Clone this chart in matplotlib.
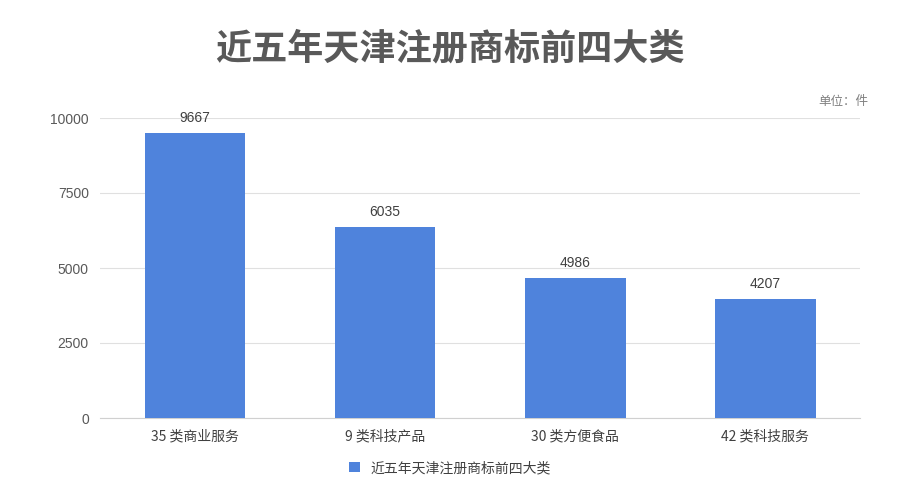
import matplotlib
matplotlib.use("Agg")
import matplotlib.pyplot as plt

plt.rcParams['font.family'] = ['Noto Sans CJK SC', 'DejaVu Sans']

categories = ["35 类商业服务", "9 类科技产品", "30 类方便食品", "42 类科技服务"]
bar_heights = [9500, 6370, 4670, 3980]
value_labels = ["9667", "6035", "4986", "4207"]
yticks = [0, 2500, 5000, 7500, 10000]

fig = plt.figure(figsize=(9, 5), dpi=100)
ax = fig.add_axes([0.111, 0.164, 0.845, 0.6])
x = range(len(categories))
bars = ax.bar(x, bar_heights, width=0.53, color="#4f83dc", label="近五年天津注册商标前四大类", zorder=3)
for b, t in zip(bars, value_labels):
    ax.text(b.get_x() + b.get_width() / 2, b.get_height() + 250, t, ha="center", va="bottom",
            fontsize=10, color="#404040", family=["Liberation Sans", "DejaVu Sans"])
ax.set_ylim(0, 10000)
ax.set_xlim(-0.5, 3.5)
ax.set_yticks(yticks)
ax.set_yticklabels([str(v) for v in yticks], fontsize=10, color="#595959", family=["Liberation Sans", "DejaVu Sans"])
ax.set_xticks(list(x))
ax.set_xticklabels(categories, fontsize=10, color="#404040")
ax.grid(axis="y", color="#e0e0e0", linewidth=0.8, zorder=0)
for s in ["top", "right", "left"]:
    ax.spines[s].set_visible(False)
ax.spines["bottom"].set_color("#d0d0d0")
ax.tick_params(length=0, pad=8)
fig.text(0.5, 0.903, "近五年天津注册商标前四大类", ha="center", va="center", fontsize=26,
         fontweight="bold", color="#595959")
fig.text(0.965, 0.798, "单位：件", ha="right", va="center", fontsize=9, color="#808080")
fig.legend(loc="center", bbox_to_anchor=(0.5, 0.064), frameon=False, fontsize=10,
           handlelength=0.8, handleheight=0.8, labelcolor="#404040")
fig.savefig("out.png", dpi=100, facecolor="white")
